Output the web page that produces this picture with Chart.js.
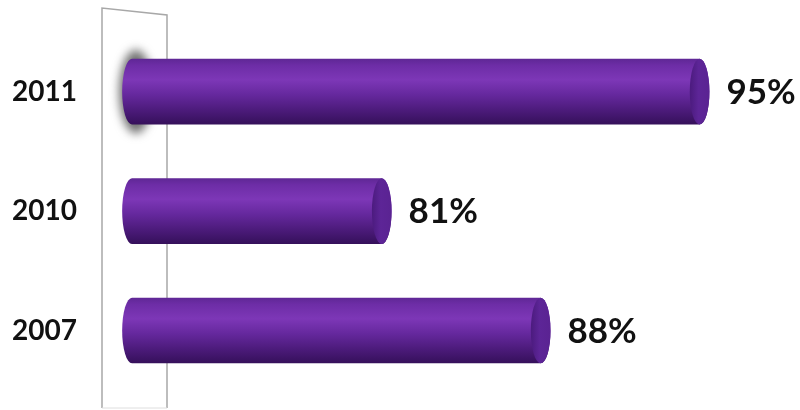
<!DOCTYPE html>
<html>
<head>
<meta charset="utf-8">
<script src="https://cdn.jsdelivr.net/npm/chart.js@4/dist/chart.umd.min.js"></script>
<style>
  html, body { margin: 0; padding: 0; background: #fff; }
  #wrap { width: 800px; height: 410px; }
</style>
</head>
<body>
<div id="wrap"><canvas id="c" width="800" height="410"></canvas></div>
<script>
// Survey years (top to bottom) and the share reached in each year, in percent
const years = ['2011', '2010', '2007'];
const shares = [95, 81, 88];
const axisMin = 70;
const axisMax = 97;

const FONT = 'Lato, "Open Sans", "DejaVu Sans", sans-serif';
const TEXT = '#111111';

// 3D back wall standing behind the start of the bars
const backWall = {
  id: 'backWall',
  beforeDatasetsDraw(chart) {
    const { ctx, chartArea: a } = chart;
    const xl = a.left - 30, xr = a.left + 35;
    const yl = a.top - 24, yr = a.top - 17, yb = chart.height - 2;
    ctx.save();
    ctx.strokeStyle = '#a8a8a8';
    ctx.lineWidth = 1.5;
    ctx.beginPath();
    ctx.moveTo(xl, yb);
    ctx.lineTo(xl, yl);
    ctx.lineTo(xr, yr);
    ctx.lineTo(xr, yb);
    ctx.stroke();
    ctx.strokeStyle = '#dedede';
    ctx.lineWidth = 1;
    ctx.beginPath();
    ctx.moveTo(xl, yb);
    ctx.lineTo(xr, yb);
    ctx.stroke();
    ctx.restore();
  }
};

// Draws each bar as a shaded cylinder, plus its percentage label
const cylinders = {
  id: 'cylinders',
  afterDatasetsDraw(chart) {
    const ctx = chart.ctx;
    const meta = chart.getDatasetMeta(0);
    meta.data.forEach((bar, i) => {
      const { x, y, base, height } = bar.getProps(['x', 'y', 'base', 'height'], true);
      const ry = height / 2;
      const rx = ry * 0.3;
      const top = y - ry, bot = y + ry;

      ctx.save();
      if (i === 0) {
        // soft grey halo around the start of the highlighted bar
        ctx.filter = 'blur(5px)';
        ctx.fillStyle = 'rgba(95,95,95,0.9)';
        ctx.beginPath();
        ctx.ellipse(base + 4, y, rx + 7, ry + 9, 0, 0, Math.PI * 2);
        ctx.fill();
        ctx.filter = 'none';
      }

      const g = ctx.createLinearGradient(0, top, 0, bot);
      g.addColorStop(0.00, '#5f2795');
      g.addColorStop(0.10, '#6d2da6');
      g.addColorStop(0.32, '#7d37b7');
      g.addColorStop(0.55, '#65289d');
      g.addColorStop(0.80, '#4a1a78');
      g.addColorStop(1.00, '#35105a');

      ctx.beginPath();
      ctx.ellipse(base, y, rx, ry, 0, Math.PI / 2, Math.PI * 1.5);
      ctx.lineTo(x, top);
      ctx.ellipse(x, y, rx, ry, 0, -Math.PI / 2, Math.PI / 2);
      ctx.closePath();
      ctx.fillStyle = g;
      ctx.fill();

      // flat end face
      const f = ctx.createLinearGradient(x - rx, 0, x + rx, 0);
      f.addColorStop(0, '#4b1b7e');
      f.addColorStop(0.45, '#5d2597');
      f.addColorStop(1, '#5a2392');
      ctx.beginPath();
      ctx.ellipse(x, y, rx, ry, 0, 0, Math.PI * 2);
      ctx.fillStyle = f;
      ctx.fill();

      ctx.font = `bold 35px ${FONT}`;
      ctx.fillStyle = TEXT;
      ctx.textAlign = 'left';
      ctx.textBaseline = 'middle';
      ctx.fillText(shares[i] + '%', x + rx + 17, y + 1);
      ctx.restore();
    });
  }
};

new Chart(document.getElementById('c'), {
  type: 'bar',
  data: {
    labels: years,
    datasets: [{
      data: shares,
      base: axisMin,
      backgroundColor: 'rgba(0,0,0,0)',
      borderWidth: 0,
      categoryPercentage: 1,
      barPercentage: 0.55
    }]
  },
  options: {
    indexAxis: 'y',
    responsive: false,
    animation: false,
    devicePixelRatio: 1,
    layout: { padding: { left: 12, top: 32, bottom: 19, right: 55 } },
    plugins: { legend: { display: false }, tooltip: { enabled: false } },
    scales: {
      x: { display: false, min: axisMin, max: axisMax },
      y: {
        grid: { display: false },
        border: { display: false },
        afterFit(s) { s.width = 120; },
        ticks: {
          crossAlign: 'far',
          color: TEXT,
          font: { family: FONT, size: 28, weight: 'bold' }
        }
      }
    }
  },
  plugins: [backWall, cylinders]
});
</script>
</body>
</html>
